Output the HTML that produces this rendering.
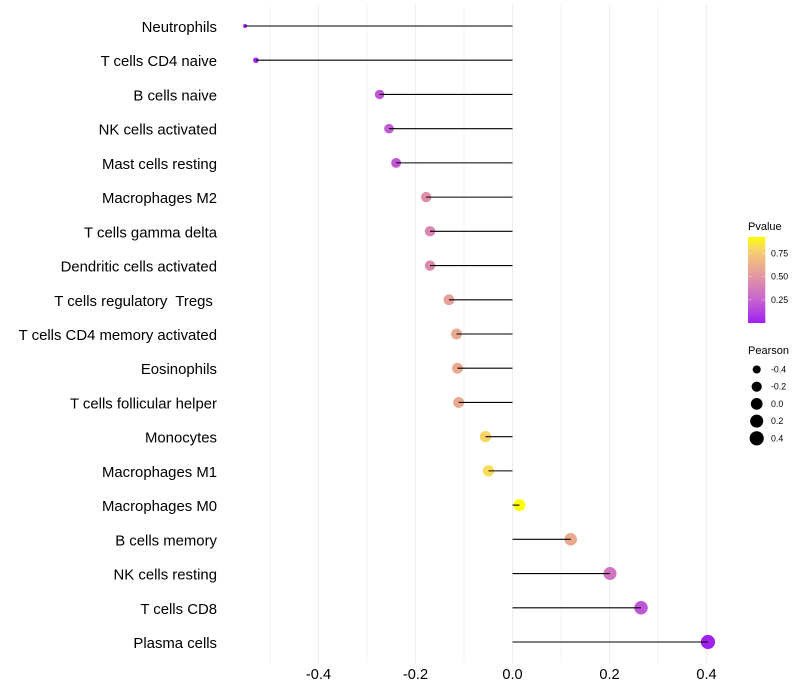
<!DOCTYPE html>
<html>
<head>
<meta charset="utf-8">
<style>
html,body{margin:0;padding:0;background:#fff;}
svg{display:block;font-family:"Liberation Sans",sans-serif;}
text{white-space:pre;}
</style>
</head>
<body>
<svg id="chart" width="800" height="700" viewBox="0 0 800 700" xmlns="http://www.w3.org/2000/svg">
<defs><linearGradient id="pg" x1="0" y1="1" x2="0" y2="0"></linearGradient></defs>
<g id="grid"></g>
<g id="points"></g>
<g id="stems"></g>
<g id="ylabels"></g>
<g id="xlabels"></g>
<g id="legend-p"></g>
<g id="legend-s"></g>
</svg>
<script>
var categories = ["Neutrophils","T cells CD4 naive","B cells naive","NK cells activated","Mast cells resting","Macrophages M2","T cells gamma delta","Dendritic cells activated","T cells regulatory  Tregs ","T cells CD4 memory activated","Eosinophils","T cells follicular helper","Monocytes","Macrophages M1","Macrophages M0","B cells memory","NK cells resting","T cells CD8","Plasma cells"];
var pearson = [-0.5515,-0.529,-0.274,-0.2546,-0.24,-0.178,-0.17,-0.17,-0.131,-0.1155,-0.1134,-0.111,-0.0557,-0.0495,0.0144,0.12,0.201,0.265,0.403];
var pvalue = [0.01,0.02,0.2,0.22,0.2,0.46,0.42,0.44,0.55,0.6,0.6,0.6,0.8,0.82,0.93,0.6,0.33,0.2,0.01];
var xTicks = [-0.4,-0.2,0,0.2,0.4];
var xTickLabels = ["-0.4","-0.2","0.0","0.2","0.4"];
var xMinorTicks = [-0.5,-0.3,-0.1,0.1,0.3];
var colorTicks = [0.25,0.5,0.75];
var colorTickLabels = ["0.25","0.50","0.75"];
var sizeTicks = [-0.4,-0.2,0,0.2,0.4];
var sizeTickLabels = ["-0.4","-0.2","0.0","0.2","0.4"];
var colorStops = [[0,"#a020f0"],[0.25,"#c764cf"],[0.5,"#e295a3"],[0.75,"#f4c876"],[0.82,"#f8dc5c"],[0.93,"#ffff00"]];

var NS = "http://www.w3.org/2000/svg";
function xScale(v){ return 512.5 + 485 * v; }
function yScale(i){ return 26 + i * (642 - 26) / (categories.length - 1); }
function pearsonExtent(){ return [Math.min.apply(null, pearson), Math.max.apply(null, pearson)]; }
function rScale(v){
  var e = pearsonExtent();
  var t = Math.max(0, Math.min(1, (v - e[0]) / (e[1] - e[0])));
  return 2 + 5.1 * Math.sqrt(t);
}
function hex(c){ return [1,3,5].map(function(k){ return parseInt(c.substr(k,2),16); }); }
function colorScale(p){
  var s = colorStops;
  if (p <= s[0][0]) return s[0][1];
  for (var i = 1; i < s.length; i++) {
    if (p <= s[i][0]) {
      var t = (p - s[i-1][0]) / (s[i][0] - s[i-1][0]);
      var a = hex(s[i-1][1]), b = hex(s[i][1]);
      return "rgb(" + a.map(function(x, k){ return Math.round(x + (b[k] - x) * t); }).join(",") + ")";
    }
  }
  return s[s.length-1][1];
}
function make(tag, attrs, parent, txt){
  var el = document.createElementNS(NS, tag);
  for (var k in attrs) el.setAttribute(k, attrs[k]);
  if (txt !== undefined) el.textContent = txt;
  parent.appendChild(el);
  return el;
}
var grid = document.getElementById("grid");
var PANEL_TOP = 5, PANEL_BOTTOM = 663;
xMinorTicks.forEach(function(v){
  var el = make("line", {x1:xScale(v),x2:xScale(v),y1:PANEL_TOP,y2:PANEL_BOTTOM,stroke:"#f3f3f3","stroke-width":1}, grid);
  
  
});
xTicks.forEach(function(v){
  var el = make("line", {x1:xScale(v),x2:xScale(v),y1:PANEL_TOP,y2:PANEL_BOTTOM,stroke:"#eeeeee","stroke-width":1.07}, grid);
  
  
});
var gPoints = document.getElementById("points");
var gStems = document.getElementById("stems");
var gY = document.getElementById("ylabels");
categories.forEach(function(c, i){
  var y = yScale(i);
  var pt = make("circle", {cx:xScale(pearson[i]),cy:y,r:rScale(pearson[i]),fill:colorScale(pvalue[i])}, gPoints);
  
  
  var st = make("line", {x1:xScale(0),x2:xScale(pearson[i]),y1:y,y2:y,stroke:"#000","stroke-width":1.07}, gStems);
  
  
  var lb = make("text", {x:217,y:y+6,"text-anchor":"end","font-size":14.9,fill:"#000"}, gY, c);
  
  
});
var gX = document.getElementById("xlabels");
xTicks.forEach(function(v, i){
  var t = make("text", {x:xScale(v),y:679,"text-anchor":"middle","font-size":14.6,fill:"#000"}, gX, xTickLabels[i]);
  
  
});
var pg = document.getElementById("pg");
colorStops.forEach(function(s){
  make("stop", {offset:s[0]/0.93,"stop-color":s[1]}, pg);
});
var lp = document.getElementById("legend-p");
var LEG_X = 748, LEG_W = 17.3, LEG_BOTTOM = 323, LEG_PX = 92.6;
function legendY(p){ return LEG_BOTTOM - LEG_PX * p; }
var lpTitle = make("text", {x:LEG_X,y:230,"font-size":11,fill:"#000"}, lp, "Pvalue");


var bar = make("rect", {x:LEG_X,y:237,width:LEG_W,height:LEG_BOTTOM-237,fill:"url(#pg)"}, lp);


colorTicks.forEach(function(p, i){
  var y = legendY(p);
  var a = make("line", {x1:LEG_X,x2:LEG_X+3.5,y1:y,y2:y,stroke:"#fff","stroke-opacity":0.6,"stroke-width":0.6}, lp);
  
  
  var b = make("line", {x1:LEG_X+LEG_W-3.5,x2:LEG_X+LEG_W,y1:y,y2:y,stroke:"#fff","stroke-opacity":0.6,"stroke-width":0.6}, lp);
  
  
  var t = make("text", {x:771,y:y+3,"font-size":8.8,fill:"#000"}, lp, colorTickLabels[i]);
  
  
});
var ls = document.getElementById("legend-s");
var lsTitle = make("text", {x:LEG_X,y:354,"font-size":11,fill:"#000"}, ls, "Pearson");


sizeTicks.forEach(function(v, i){
  var y = 369.5 + i * 17.2;
  var c = make("circle", {cx:756.7,cy:y,r:rScale(v),fill:"#000"}, ls);
  
  
  var t = make("text", {x:771,y:y+3,"font-size":8.8,fill:"#000"}, ls, sizeTickLabels[i]);
  
  
});
</script>
</body>
</html>
